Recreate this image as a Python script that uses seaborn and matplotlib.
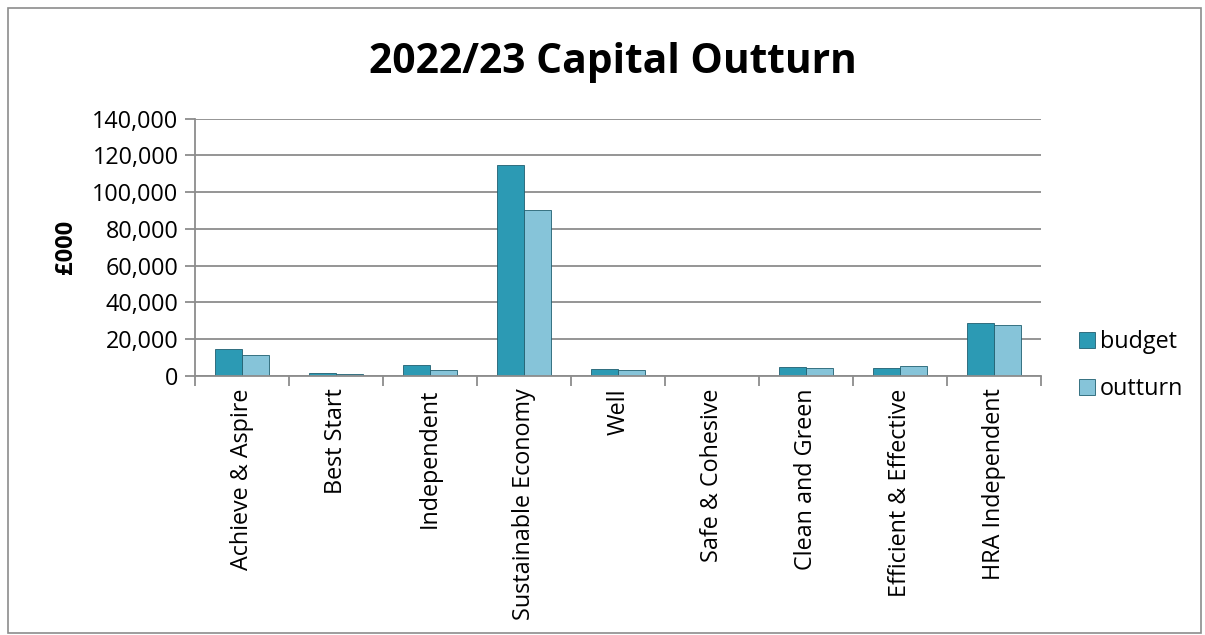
import matplotlib
matplotlib.use("Agg")
import matplotlib.pyplot as plt
import seaborn as sns
import pandas as pd
from matplotlib.patches import Rectangle
from matplotlib.ticker import FuncFormatter

categories = ["Achieve & Aspire", "Best Start", "Independent", "Sustainable Economy",
              "Well", "Safe & Cohesive", "Clean and Green", "Efficient & Effective",
              "HRA Independent"]
budget = [14800, 1500, 6000, 114800, 3700, 0, 4900, 4400, 28700]
outturn = [11500, 900, 3300, 90200, 3100, 0, 4400, 5500, 27800]
series = ["budget", "outturn"]
colors = ["#2c9ab4", "#86c4d9"]

df = pd.DataFrame({
    "category": categories * 2,
    "value": budget + outturn,
    "series": ["budget"] * len(categories) + ["outturn"] * len(categories),
})

sns.set_theme(style="white")
plt.rcParams['font.family'] = ['Open Sans', 'DejaVu Sans']
plt.rcParams['text.color'] = 'black'
plt.rcParams['xtick.color'] = 'black'
plt.rcParams['ytick.color'] = 'black'
plt.rcParams['axes.labelcolor'] = 'black'

fig = plt.figure(figsize=(12.05, 6.35), dpi=100)
ax = fig.add_axes([0.162, 0.408, 0.702, 0.405])

sns.barplot(data=df, x="category", y="value", hue="series", hue_order=series,
            palette=colors, width=0.58, ax=ax, edgecolor="#1f5f70", linewidth=0.6,
            saturation=1)

ax.set_ylim(0, 140000)
ax.set_yticks(range(0, 140001, 20000))
ax.yaxis.set_major_formatter(FuncFormatter(lambda v, p: f"{int(v):,}"))
ax.grid(axis="y", color="#8c8c8c", linewidth=1.3)
ax.set_axisbelow(True)
for s in ["top", "right"]:
    ax.spines[s].set_visible(False)
for s in ["left", "bottom"]:
    ax.spines[s].set_color("#8c8c8c")
    ax.spines[s].set_linewidth(1.3)
ax.tick_params(axis="y", left=True, length=7, color="#8c8c8c", labelcolor="black",
               width=1.3, labelsize=16.8, pad=5)
ax.tick_params(axis="x", bottom=False, labelsize=16.8, labelcolor="black", pad=3)
ax.set_xticks(range(len(categories)))
ax.set_xticklabels(categories, rotation=90)
ax.set_xticks([i - 0.5 for i in range(len(categories) + 1)], minor=True)
ax.tick_params(axis="x", which="minor", bottom=True, length=7, color="#8c8c8c", width=1.3)
ax.set_xlim(-0.5, len(categories) - 0.5)

ax.set_xlabel("")
ax.set_ylabel("£000", fontsize=17, fontweight="bold", labelpad=10)

leg = ax.legend(loc="center left", bbox_to_anchor=(1.02, 0.04), frameon=False,
                fontsize=16.8, handlelength=0.7, handleheight=0.7, labelspacing=1.0,
                handletextpad=0.2)

fig.text(0.509, 0.902, "2022/23 Capital Outturn", fontsize=29.3, fontweight="bold",
         ha="center", va="center")

fig.patches.append(Rectangle((0.007, 0.003), 0.99, 0.985, transform=fig.transFigure,
                             fill=False, edgecolor="#8c8c8c", linewidth=1.2))

fig.savefig("out.png", dpi=100)
